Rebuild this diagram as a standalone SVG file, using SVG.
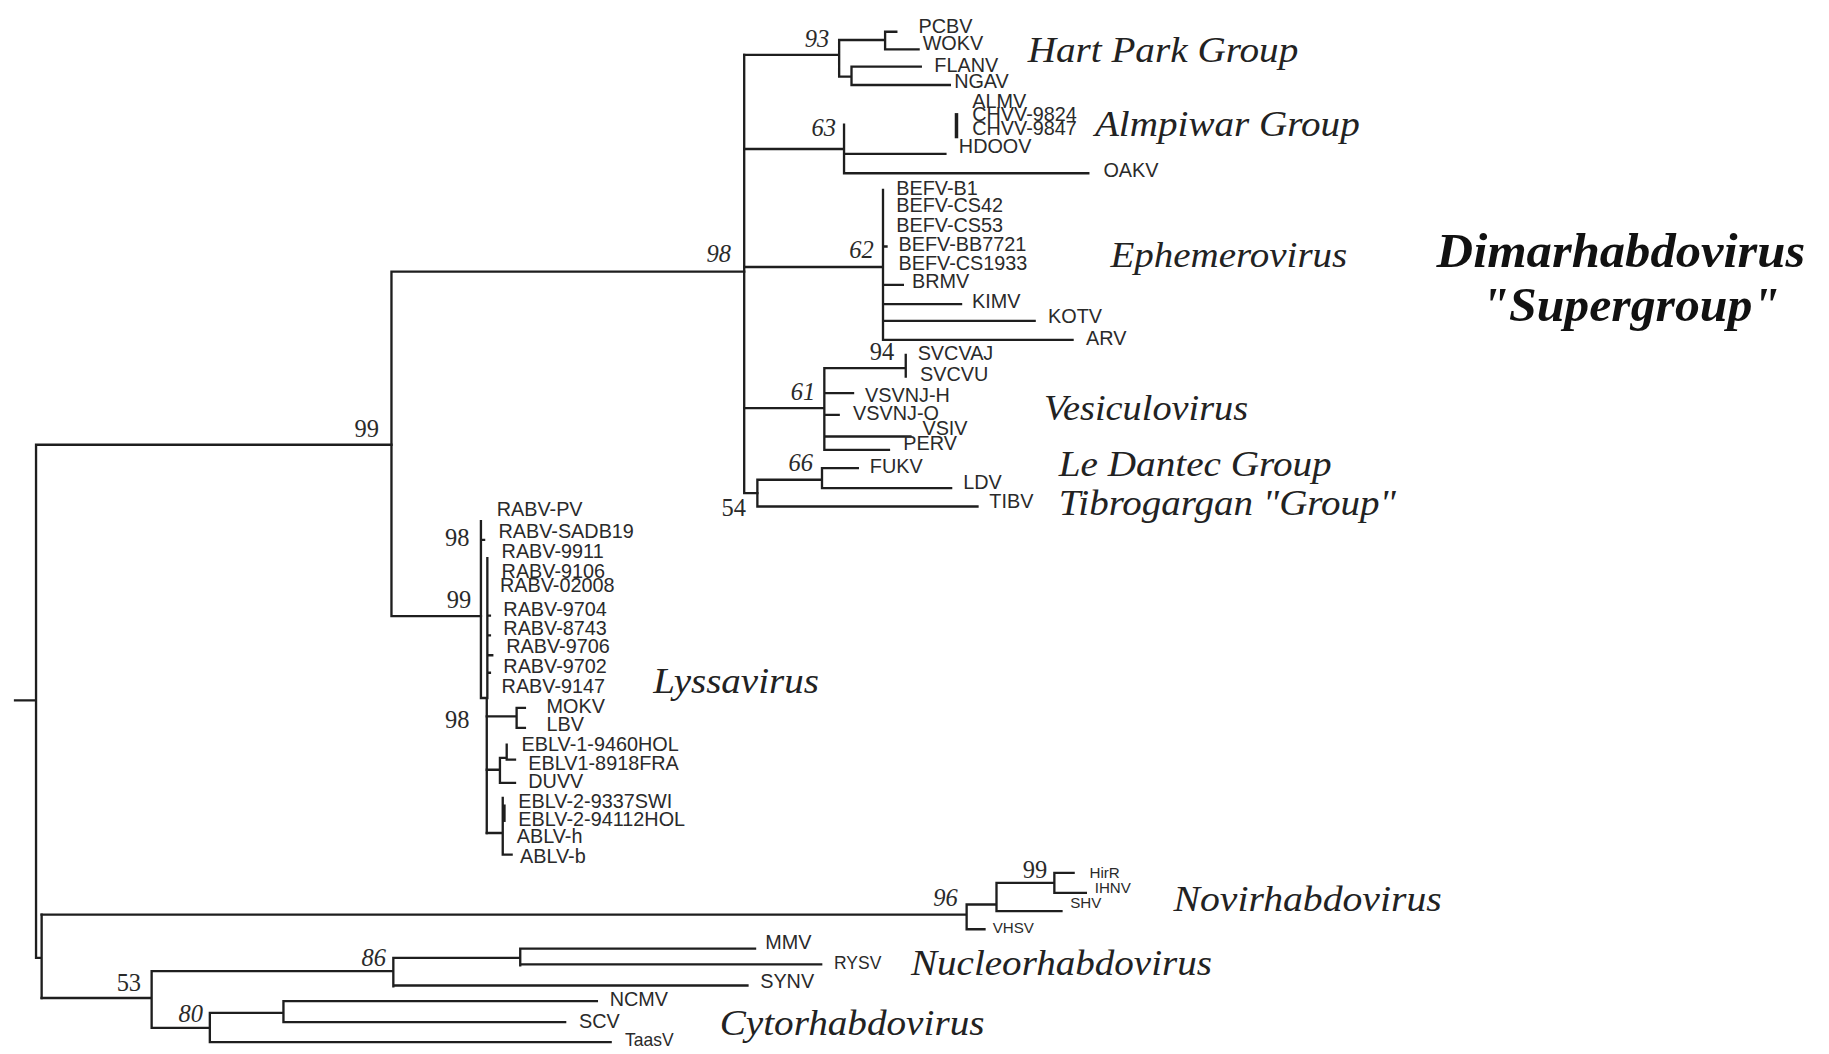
<svg xmlns="http://www.w3.org/2000/svg" width="1829" height="1054" viewBox="0 0 1829 1054">
<style>
.br{stroke:#1e1e1e;stroke-width:2;fill:none;stroke-linecap:square}
.tk{stroke:#1e1e1e;stroke-width:3;fill:none}
.lf{font-family:"Liberation Sans",Arial,sans-serif;font-size:17px;fill:#2a2a2a}
.sm{font-size:13px}
.bs{font-family:"Liberation Serif","Times New Roman",serif;font-size:21px;fill:#2a2a2a}
.it{font-style:italic}
.grp{font-family:"Liberation Serif","Times New Roman",serif;font-style:italic;font-size:31px;fill:#222}
.big{font-family:"Liberation Serif","Times New Roman",serif;font-style:italic;font-weight:bold;font-size:42px;fill:#111}
</style>
<rect x="0" y="0" width="1829" height="1054" fill="#ffffff"/>
<g transform="scale(1.16645,1.1659)">
<g id="connectors">
<path class="br" d="M12.9,600.7 H30.9 M30.9,381.5 V821.6 M30.9,381.5 H335.6 M30.9,821.6 H35.7 M35.7,784.5 V856"/>
<path class="br" d="M335.6,233 V528.5 M335.6,233 H638 M335.6,528.5 H412.3"/>
<path class="br" d="M638,47 V423 M638,423 H649.3"/>
<path class="br" d="M638,47 H719.4 M719.4,34.3 V65.7 M719.4,34.3 H758.8 M758.8,27.2 V42.3 M758.8,27.2 H768.4 M758.8,42.3 H787.5 M719.4,65.7 H730 M730,57.2 V72.9 M730,57.2 H789.4 M730,72.9 H814.3"/>
<path class="br" d="M638,127.8 H723.6 M723.6,107 V148.6 M723.6,132 H810.5 M723.6,148.6 H933"/>
<path class="tk" d="M820,97 V118.6"/>
<path class="br" d="M638,229 H757 M757,162.9 V291.5 M757,211.4 H760 M757,244.3 H774 M757,260.9 H823.9 M757,275.2 H887 M757,291.5 H919.5"/>
<path class="br" d="M638,350.1 H706.7 M706.7,315.8 V385.8 M706.7,315.8 H776.5 M776.5,304.4 V322.9 M706.7,337.2 H731.3 M706.7,355.8 H719 M706.7,374.4 H780.5 M706.7,385.8 H762.1"/>
<path class="br" d="M649.3,411.5 V434.4 M649.3,411.5 H704.7 M704.7,401.5 V418.7 M704.7,401.5 H735.4 M704.7,418.7 H815.4 M649.3,434.4 H838"/>
<path class="br" d="M412.3,447 V598.7 M412.3,598.7 H417.3 M417.8,478.7 V598.7 M417.3,598.7 V714.5 M412.3,463 H415 M417.8,528 H420 M417.8,545 H420 M417.8,562 H422 M417.8,577 H420"/>
<path class="br" d="M417.3,614.4 H442.9 M442.9,607.2 V624.3 M442.9,607.2 H450 M442.9,624.3 H450"/>
<path class="br" d="M417.3,660.2 H428.6 M428.6,650 V671.5 M428.6,650 H434.4 M434.4,638.6 V651.5 M434.4,651.5 H441.5 M428.6,671.5 H441.5"/>
<path class="br" d="M417.3,714.5 H431 M431,684.4 V733 M431,733 H438.6"/>
<path class="tk" d="M432,690 V705"/>
<path class="br" d="M35.7,784.5 H828.7 M828.7,775.8 V797 M828.7,775.8 H854.3 M854.3,757.2 V781.5 M854.3,757.2 H903.9 M903.9,748.6 V765.8 M903.9,748.6 H920.4 M903.9,765.8 H930.9 M854.3,781.5 H910 M828.7,797 H844"/>
<path class="br" d="M35.7,856 H130 M130,833 V881.6 M130,833 H337.2 M337.2,821.6 V846 M337.2,821.6 H446 M446,813.7 V828 M446,813.7 H647.3 M446,827.2 H704 M337.2,845.3 H640.8 M130,881.6 H179.9 M179.9,868.7 V893.9 M179.9,868.7 H243 M243,858.7 V876.7 M243,858.7 H511.7 M243,876.7 H484.5 M179.9,893.9 H523.5"/>
</g>
<g id="support">
<text class="bs it" x="690" y="40">93</text>
<text class="bs it" x="695.7" y="117">63</text>
<text class="bs it" x="605.7" y="224.3">98</text>
<text class="bs it" x="728" y="221.4">62</text>
<text class="bs" x="745.7" y="309.2">94</text>
<text class="bs it" x="678" y="343">61</text>
<text class="bs it" x="676" y="404.4">66</text>
<text class="bs" x="618.6" y="443">54</text>
<text class="bs" x="304" y="374.4">99</text>
<text class="bs" x="381.5" y="468.6">98</text>
<text class="bs" x="383" y="521.4">99</text>
<text class="bs" x="381.5" y="624.4">98</text>
<text class="bs it" x="800" y="777">96</text>
<text class="bs" x="876.8" y="753">99</text>
<text class="bs it" x="310" y="828.8">86</text>
<text class="bs" x="100" y="850.2">53</text>
<text class="bs it" x="153" y="877">80</text>
</g>
<g id="hart-park" class="lf">
<g id="n-PCBV"><text x="787.5" y="28.6">PCBV</text></g>
<g id="n-WOKV"><text x="791" y="42.9">WOKV</text></g>
<g id="n-FLANV"><text x="801" y="61.4">FLANV</text></g>
<g id="n-NGAV"><text x="818" y="75.7">NGAV</text></g>
</g>
<g id="almpiwar" class="lf">
<g id="n-ALMV"><text x="833.5" y="93">ALMV</text></g>
<g id="n-CHVV-9824"><text x="833.5" y="104">CHVV-9824</text></g>
<g id="n-CHVV-9847"><text x="833.5" y="115.8">CHVV-9847</text></g>
<g id="n-HDOOV"><text x="822" y="131">HDOOV</text></g>
<g id="n-OAKV"><text x="946" y="151.5">OAKV</text></g>
</g>
<g id="ephemero" class="lf">
<g id="n-BEFV-B1"><text x="768.4" y="167">BEFV-B1</text></g>
<g id="n-BEFV-CS42"><text x="768.4" y="182">BEFV-CS42</text></g>
<g id="n-BEFV-CS53"><text x="768.4" y="199">BEFV-CS53</text></g>
<g id="n-BEFV-BB7721"><text x="770.3" y="215.7">BEFV-BB7721</text></g>
<g id="n-BEFV-CS1933"><text x="770.3" y="231.4">BEFV-CS1933</text></g>
<g id="n-BRMV"><text x="781.8" y="247">BRMV</text></g>
<g id="n-KIMV"><text x="833.4" y="264.3">KIMV</text></g>
<g id="n-KOTV"><text x="898.5" y="277">KOTV</text></g>
<g id="n-ARV"><text x="931" y="295.7">ARV</text></g>
</g>
<g id="vesiculo" class="lf">
<g id="n-SVCVAJ"><text x="786.7" y="308.6">SVCVAJ</text></g>
<g id="n-SVCVU"><text x="788.7" y="327">SVCVU</text></g>
<g id="n-VSVNJ-H"><text x="741.6" y="344.4">VSVNJ-H</text></g>
<g id="n-VSVNJ-O"><text x="731.3" y="360">VSVNJ-O</text></g>
<g id="n-VSIV"><text x="790.8" y="373">VSIV</text></g>
<g id="n-PERV"><text x="774.4" y="386">PERV</text></g>
<g id="n-FUKV"><text x="745.7" y="406">FUKV</text></g>
<g id="n-LDV"><text x="825.7" y="419">LDV</text></g>
<g id="n-TIBV"><text x="848.2" y="436">TIBV</text></g>
</g>
<g id="lyssa" class="lf">
<g id="n-RABV-PV"><text x="425.8" y="443">RABV-PV</text></g>
<g id="n-RABV-SADB19"><text x="427.3" y="461.5">RABV-SADB19</text></g>
<g id="n-RABV-9911"><text x="430" y="478.6">RABV-9911</text></g>
<g id="n-RABV-9106"><text x="430" y="495.7">RABV-9106</text></g>
<g id="n-RABV-02008"><text x="428.6" y="508">RABV-02008</text></g>
<g id="n-RABV-9704"><text x="431.5" y="528.6">RABV-9704</text></g>
<g id="n-RABV-8743"><text x="431.5" y="544.3">RABV-8743</text></g>
<g id="n-RABV-9706"><text x="434" y="560">RABV-9706</text></g>
<g id="n-RABV-9702"><text x="431.5" y="577">RABV-9702</text></g>
<g id="n-RABV-9147"><text x="430" y="594">RABV-9147</text></g>
<g id="n-MOKV"><text x="468.6" y="611.5">MOKV</text></g>
<g id="n-LBV"><text x="468.6" y="627.2">LBV</text></g>
<g id="n-EBLV-1-9460HOL"><text x="447.2" y="644.3">EBLV-1-9460HOL</text></g>
<g id="n-EBLV1-8918FRA"><text x="452.9" y="660.1">EBLV1-8918FRA</text></g>
<g id="n-DUVV"><text x="452.9" y="675.8">DUVV</text></g>
<g id="n-EBLV-2-9337SWI"><text x="444.4" y="693">EBLV-2-9337SWI</text></g>
<g id="n-EBLV-2-94112HOL"><text x="444.4" y="708.7">EBLV-2-94112HOL</text></g>
<g id="n-ABLV-h"><text x="443" y="723">ABLV-h</text></g>
<g id="n-ABLV-b"><text x="445.8" y="740">ABLV-b</text></g>
</g>
<g id="novi" class="lf sm">
<g id="n-HirR"><text x="934" y="753">HirR</text></g>
<g id="n-IHNV"><text x="938.5" y="766">IHNV</text></g>
<g id="n-SHV"><text x="917.5" y="779">SHV</text></g>
<g id="n-VHSV"><text x="851" y="800">VHSV</text></g>
</g>
<g id="plant" class="lf">
<g id="n-MMV"><text x="656" y="814">MMV</text></g>
<g id="n-RYSV"><text x="715" y="831" font-size="15">RYSV</text></g>
<g id="n-SYNV"><text x="651.7" y="847">SYNV</text></g>
<g id="n-NCMV"><text x="522.7" y="863">NCMV</text></g>
<g id="n-SCV"><text x="496.4" y="881.6">SCV</text></g>
<g id="n-TaasV"><text x="535.8" y="897" font-size="15">TaasV</text></g>
</g>
<g id="group-labels">
<text class="grp" x="881" y="52.9" textLength="232" lengthAdjust="spacingAndGlyphs">Hart Park Group</text>
<text class="grp" x="938.7" y="117" textLength="227" lengthAdjust="spacingAndGlyphs">Almpiwar Group</text>
<text class="grp" x="952" y="228.6" textLength="203" lengthAdjust="spacingAndGlyphs">Ephemerovirus</text>
<text class="grp" x="895" y="360" textLength="175" lengthAdjust="spacingAndGlyphs">Vesiculovirus</text>
<text class="grp" x="907.7" y="408.7" textLength="234" lengthAdjust="spacingAndGlyphs">Le Dantec Group</text>
<text class="grp" x="907.7" y="441.5" textLength="289" lengthAdjust="spacingAndGlyphs">Tibrogargan "Group"</text>
<text class="grp" x="560" y="594.4" textLength="142" lengthAdjust="spacingAndGlyphs">Lyssavirus</text>
<text class="grp" x="1006" y="781.5" textLength="230" lengthAdjust="spacingAndGlyphs">Novirhabdovirus</text>
<text class="grp" x="781" y="836" textLength="258" lengthAdjust="spacingAndGlyphs">Nucleorhabdovirus</text>
<text class="grp" x="617" y="888" textLength="227" lengthAdjust="spacingAndGlyphs">Cytorhabdovirus</text>
<text class="big" x="1231.6" y="228.6" textLength="316" lengthAdjust="spacingAndGlyphs">Dimarhabdovirus</text>
<text class="big" x="1270" y="275" textLength="256" lengthAdjust="spacingAndGlyphs">"Supergroup"</text>
</g>
</g>
</svg>
